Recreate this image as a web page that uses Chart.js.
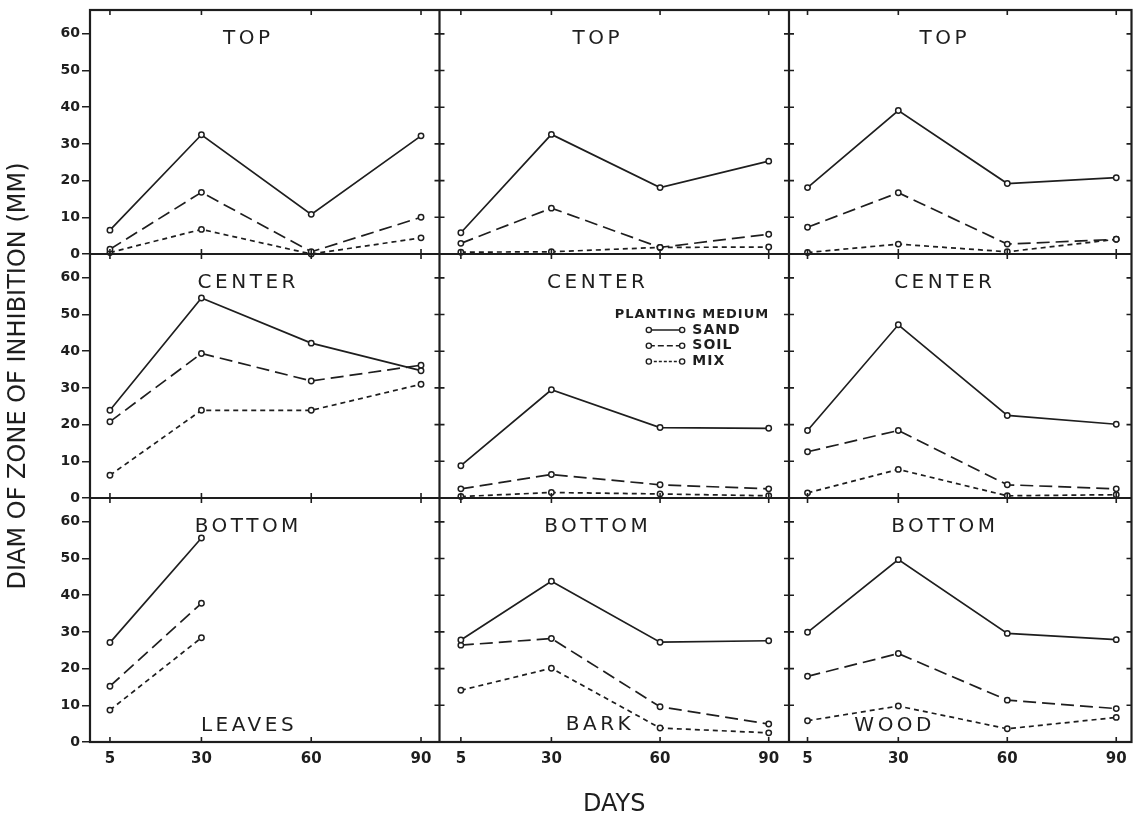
<!DOCTYPE html>
<html>
<head>
<meta charset="utf-8">
<title>Diam of zone of inhibition</title>
<script src="https://cdn.jsdelivr.net/npm/chart.js"></script>
<style>
  html, body { margin: 0; padding: 0; background: #fff; }
  #grafico { display: block; }
</style>
</head>
<body>
<canvas id="grafico" width="1137" height="817"></canvas>
<script>
// dias de muestreo (eje x) y marcas del eje y
const dias = [5, 30, 60, 90];
const marcasY = [0, 10, 20, 30, 40, 50, 60];

// filas = posicion en la planta, columnas = material, series = medio de cultivo
const posiciones = ["TOP", "CENTER", "BOTTOM"];
const materiales = ["LEAVES", "BARK", "WOOD"];
const medios = ["SAND", "SOIL", "MIX"];

/*
 * valores (mm), una fila por posicion:
 * [TOP, CENTER, BOTTOM], cada una con los 4 dias
 */
const hojasArena = [
    [6.5, 32.5, 10.8, 32.2],
    [23.9, 54.5, 42.2, 34.7],
    [27.1, 55.6, null, null]
];
const hojasSuelo = [
    [1.3, 16.8, 0.6, 10.0],
    [20.8, 39.4, 31.9, 36.2],
    [15.2, 37.8, null, null]
];
const hojasMezcla = [
    [0.4, 6.7, 0.0, 4.4],
    [6.2, 23.9, 23.9, 31.0],
    [8.7, 28.4, null, null]
];

const cortezaArena = [
    [5.8, 32.6, 18.1, 25.3],
    [8.8, 29.5, 19.2, 19.0],
    [27.8, 43.8, 27.2, 27.6]
];
const cortezaSuelo = [
    [2.9, 12.5, 1.8, 5.4],
    [2.5, 6.4, 3.6, 2.5],
    [26.4, 28.2, 9.6, 4.9]
];
const cortezaMezcla = [
    [0.5, 0.6, 1.8, 1.9],
    [0.4, 1.5, 1.1, 0.6],
    [14.1, 20.1, 3.8, 2.5]
];

const maderaArena = [
    [18.1, 39.1, 19.2, 20.8],
    [18.4, 47.2, 22.5, 20.1],
    [29.9, 49.7, 29.6, 27.9]
];
const maderaSuelo = [
    [7.3, 16.7, 2.7, 4.0],
    [12.6, 18.4, 3.6, 2.5],
    [17.9, 24.1, 11.4, 9.1]
];
const maderaMezcla = [
    [0.4, 2.7, 0.6, 4.0],
    [1.4, 7.8, 0.6, 0.9],
    [5.8, 9.8, 3.6, 6.7]
];

// agrupamos por columna (material) y luego por medio
const tablas = [
    [hojasArena, hojasSuelo, hojasMezcla],
    [cortezaArena, cortezaSuelo, cortezaMezcla],
    [maderaArena, maderaSuelo, maderaMezcla]
];

const tinta = "#1e1e1e";
const fuente = "'DejaVu Sans', sans-serif";
const trazos = [[], [13, 6], [5, 4]]; // arena continua, suelo rayas largas, mezcla rayas cortas

// rango de cada eje x y ancho relativo de cada columna
const limitesX = [[-0.45, 95.05], [-0.9, 95.6], [-0.1, 94.2]];
const anchosColumna = [350, 350, 343];

/*
 * un dataset por panel y medio: el panel se elige con xAxisID (columna)
 * y yAxisID (fila), los ejes se apilan para formar la cuadricula 3x3
 */
const datasets = [];
tablas.forEach((tabla, c) => {
    tabla.forEach((valores, m) => {
        valores.forEach((fila, r) => {
            datasets.push({
                label: `${materiales[c]} ${posiciones[r]} ${medios[m]}`,
                data: dias.map((d, i) => ({ x: d, y: fila[i] })),
                xAxisID: "x" + c,
                yAxisID: "y" + r,
                borderColor: tinta,
                borderWidth: 1.7,
                borderDash: trazos[m],
                pointRadius: 2.7,
                pointBorderWidth: 1.5,
                pointBorderColor: tinta,
                pointBackgroundColor: "#fff",
                fill: false,
                tension: 0,
                clip: false
            });
        });
    });
});

// quitamos el margen que chart.js reserva para las etiquetas de los extremos
const sinMargen = s => {
    s.paddingLeft = 0; s.paddingRight = 0;
    s.paddingTop = 0; s.paddingBottom = 0;
};

const escalas = {};
posiciones.forEach((p, r) => {
    escalas["y" + r] = {
        type: "linear",
        position: "left",
        stack: "filas",
        stackWeight: 1,
        weight: 2 - r, // mayor peso = arriba en la pila
        min: 0,
        max: 66.5,
        afterBuildTicks: s => { s.ticks = marcasY.map(v => ({ value: v })); },
        afterFit: s => { s.width = 90; sinMargen(s); },
        ticks: { color: tinta, padding: 2, font: { family: fuente, size: 14, weight: "bold" } },
        grid: { drawOnChartArea: false, tickLength: 8, color: tinta, lineWidth: 1.5 },
        border: { display: false },
        title: {
            display: r === 1,
            text: "DIAM OF ZONE OF INHIBITION (MM)",
            color: tinta,
            padding: { top: 4, bottom: 0 },
            font: { family: fuente, size: 24, lineHeight: 1.2 }
        }
    };
});
materiales.forEach((mat, c) => {
    escalas["x" + c] = {
        type: "linear",
        position: "bottom",
        stack: "columnas",
        stackWeight: anchosColumna[c],
        min: limitesX[c][0],
        max: limitesX[c][1],
        afterBuildTicks: s => { s.ticks = dias.map(v => ({ value: v })); },
        afterFit: s => { s.height = 75; sinMargen(s); },
        ticks: { color: tinta, padding: 8, autoSkip: false, maxRotation: 0, font: { family: fuente, size: 15, weight: "bold" } },
        grid: { display: false, drawTicks: false },
        border: { display: false },
        title: {
            display: c === 1,
            text: "DAYS",
            color: tinta,
            padding: 0,
            font: { family: fuente, size: 24, lineHeight: 1 }
        }
    };
});

// marco de los paneles, divisiones y marcas de escala cruzadas
const marco = {
    id: "marco",
    afterDatasetsDraw(chart) {
        const { ctx, chartArea: a, scales } = chart;
        ctx.save();
        ctx.strokeStyle = tinta;
        ctx.lineWidth = 2.2;
        ctx.strokeRect(a.left, a.top, a.right - a.left, a.bottom - a.top);
        ctx.beginPath();
        for (let c = 1; c < 3; c++) {
            const x = scales["x" + c].left;
            ctx.moveTo(x, a.top); ctx.lineTo(x, a.bottom);
        }
        for (let r = 1; r < 3; r++) {
            const y = scales["y" + r].top;
            ctx.moveTo(a.left, y); ctx.lineTo(a.right, y);
        }
        ctx.stroke();

        ctx.lineWidth = 1.6;
        ctx.beginPath();
        for (let c = 0; c < 3; c++) {
            const xs = scales["x" + c];
            for (let r = 0; r < 3; r++) {
                const ys = scales["y" + r];
                xs.ticks.forEach(t => {
                    const x = xs.getPixelForValue(t.value);
                    ctx.moveTo(x, ys.top - (r > 0 ? 5 : 0));
                    ctx.lineTo(x, ys.top + 5);
                    if (r === 2) { ctx.moveTo(x, ys.bottom - 5); ctx.lineTo(x, ys.bottom); }
                });
                ys.ticks.forEach(t => {
                    const y = ys.getPixelForValue(t.value);
                    ctx.moveTo(xs.right - 5, y);
                    ctx.lineTo(xs.right + (c < 2 ? 5 : 0), y);
                });
            }
        }
        ctx.stroke();
        ctx.restore();
    }
};

// rotulos de cada panel y leyenda del medio de cultivo
const rotulos = {
    id: "rotulos",
    afterDatasetsDraw(chart) {
        const { ctx, scales } = chart;
        ctx.save();
        ctx.fillStyle = tinta;
        ctx.strokeStyle = tinta;
        ctx.textAlign = "center";
        ctx.textBaseline = "middle";
        ctx.font = `20px ${fuente}`;
        ctx.letterSpacing = "3.5px";

        const sitioMaterial = [[43, 4.5], [43.4, 4.7], [29, 4.3]];
        for (let c = 0; c < 3; c++) {
            const xs = scales["x" + c];
            for (let r = 0; r < 3; r++) {
                const ys = scales["y" + r];
                ctx.fillText(posiciones[r], xs.getPixelForValue(42.8), ys.getPixelForValue(58.6));
            }
            ctx.fillText(materiales[c], xs.getPixelForValue(sitioMaterial[c][0]), scales.y2.getPixelForValue(sitioMaterial[c][1]));
        }

        // leyenda en el panel central
        const xs = scales.x1, ys = scales.y1;
        ctx.font = `bold 13px ${fuente}`;
        ctx.letterSpacing = "1px";
        ctx.fillText("PLANTING MEDIUM", xs.getPixelForValue(68.8), ys.getPixelForValue(50.1));
        ctx.font = `bold 14px ${fuente}`;
        ctx.textAlign = "left";
        const filasLeyenda = [45.8, 41.5, 37.2];
        medios.forEach((m, i) => {
            const y = ys.getPixelForValue(filasLeyenda[i]);
            const x0 = xs.getPixelForValue(56.9), x1 = xs.getPixelForValue(66.1);
            ctx.lineWidth = 1.5;
            ctx.setLineDash(i === 0 ? [] : (i === 1 ? [6, 3] : [3, 2]));
            ctx.beginPath(); ctx.moveTo(x0, y); ctx.lineTo(x1, y); ctx.stroke();
            ctx.setLineDash([]);
            ctx.lineWidth = 1.4;
            [x0, x1].forEach(x => {
                ctx.beginPath(); ctx.arc(x, y, 2.6, 0, Math.PI * 2);
                ctx.fillStyle = "#fff"; ctx.fill(); ctx.stroke();
            });
            ctx.fillStyle = tinta;
            ctx.fillText(m, xs.getPixelForValue(68.9), y);
        });
        ctx.restore();
    }
};

const ctx = document.getElementById("grafico").getContext("2d");
new Chart(ctx, {
    type: "line",
    data: { datasets: datasets },
    options: {
        responsive: false,
        animation: false,
        devicePixelRatio: 1,
        layout: { padding: { top: 10, right: 4, left: 0, bottom: 0 } },
        scales: escalas,
        plugins: {
            legend: { display: false },
            tooltip: { enabled: false }
        }
    },
    plugins: [marco, rotulos]
});
</script>
</body>
</html>
